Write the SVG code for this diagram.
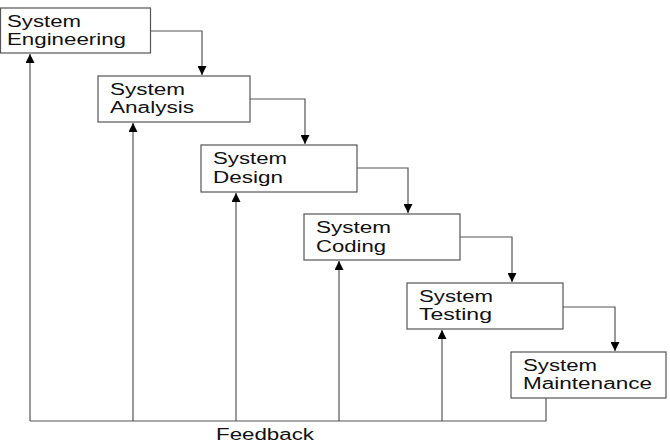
<svg xmlns="http://www.w3.org/2000/svg" width="670" height="442" viewBox="0 0 670 442">
<style>
.box{fill:#fff;stroke:#555;stroke-width:1.2}
.lbl{font-family:"Liberation Sans",Arial,sans-serif;font-size:16px;fill:#111}
.con{fill:none;stroke:#555;stroke-width:1.2}
</style>
<defs>
<marker id="ah" markerWidth="10" markerHeight="9" refX="9" refY="4.5" orient="auto" markerUnits="userSpaceOnUse">
<path d="M0,0 L9,4.5 L0,9 Z" fill="#000"/>
</marker>
</defs>
<rect width="670" height="442" fill="#fff"/>
<g id="connectors">
<path class="con" d="M150,31 H202 V75" marker-end="url(#ah)"/>
<path class="con" d="M250,99 H305 V144" marker-end="url(#ah)"/>
<path class="con" d="M357,168 H408 V213" marker-end="url(#ah)"/>
<path class="con" d="M460,237 H512 V282" marker-end="url(#ah)"/>
<path class="con" d="M563,307 H615 V351" marker-end="url(#ah)"/>
<path class="con" d="M546,398 V421 H30"/>
<path class="con" d="M30,421 V54" marker-end="url(#ah)"/>
<path class="con" d="M133,421 V123" marker-end="url(#ah)"/>
<path class="con" d="M236,421 V193" marker-end="url(#ah)"/>
<path class="con" d="M339,421 V261" marker-end="url(#ah)"/>
<path class="con" d="M442,421 V330" marker-end="url(#ah)"/>
<text class="lbl" x="216" y="440" textLength="98" lengthAdjust="spacingAndGlyphs">Feedback</text>
</g>
<g id="n1">
<rect class="box" x="0.5" y="8" width="150" height="45"/>
<text class="lbl" x="7" y="27" textLength="74" lengthAdjust="spacingAndGlyphs">System</text>
<text class="lbl" x="7" y="45" textLength="119" lengthAdjust="spacingAndGlyphs">Engineering</text>
</g>
<g id="n2">
<rect class="box" x="98" y="76" width="152" height="46"/>
<text class="lbl" x="110" y="95" textLength="75" lengthAdjust="spacingAndGlyphs">System</text>
<text class="lbl" x="110" y="113" textLength="84" lengthAdjust="spacingAndGlyphs">Analysis</text>
</g>
<g id="n3">
<rect class="box" x="201" y="145" width="156" height="47"/>
<text class="lbl" x="213" y="164" textLength="74" lengthAdjust="spacingAndGlyphs">System</text>
<text class="lbl" x="213" y="183" textLength="70" lengthAdjust="spacingAndGlyphs">Design</text>
</g>
<g id="n4">
<rect class="box" x="304" y="214" width="156" height="46"/>
<text class="lbl" x="316" y="233" textLength="75" lengthAdjust="spacingAndGlyphs">System</text>
<text class="lbl" x="316" y="252" textLength="70" lengthAdjust="spacingAndGlyphs">Coding</text>
</g>
<g id="n5">
<rect class="box" x="407" y="283" width="156" height="46"/>
<text class="lbl" x="419" y="302" textLength="74" lengthAdjust="spacingAndGlyphs">System</text>
<text class="lbl" x="419" y="320" textLength="73" lengthAdjust="spacingAndGlyphs">Testing</text>
</g>
<g id="n6">
<rect class="box" x="511" y="352" width="155" height="46"/>
<text class="lbl" x="523" y="371" textLength="74" lengthAdjust="spacingAndGlyphs">System</text>
<text class="lbl" x="523" y="389" textLength="129" lengthAdjust="spacingAndGlyphs">Maintenance</text>
</g>
</svg>
